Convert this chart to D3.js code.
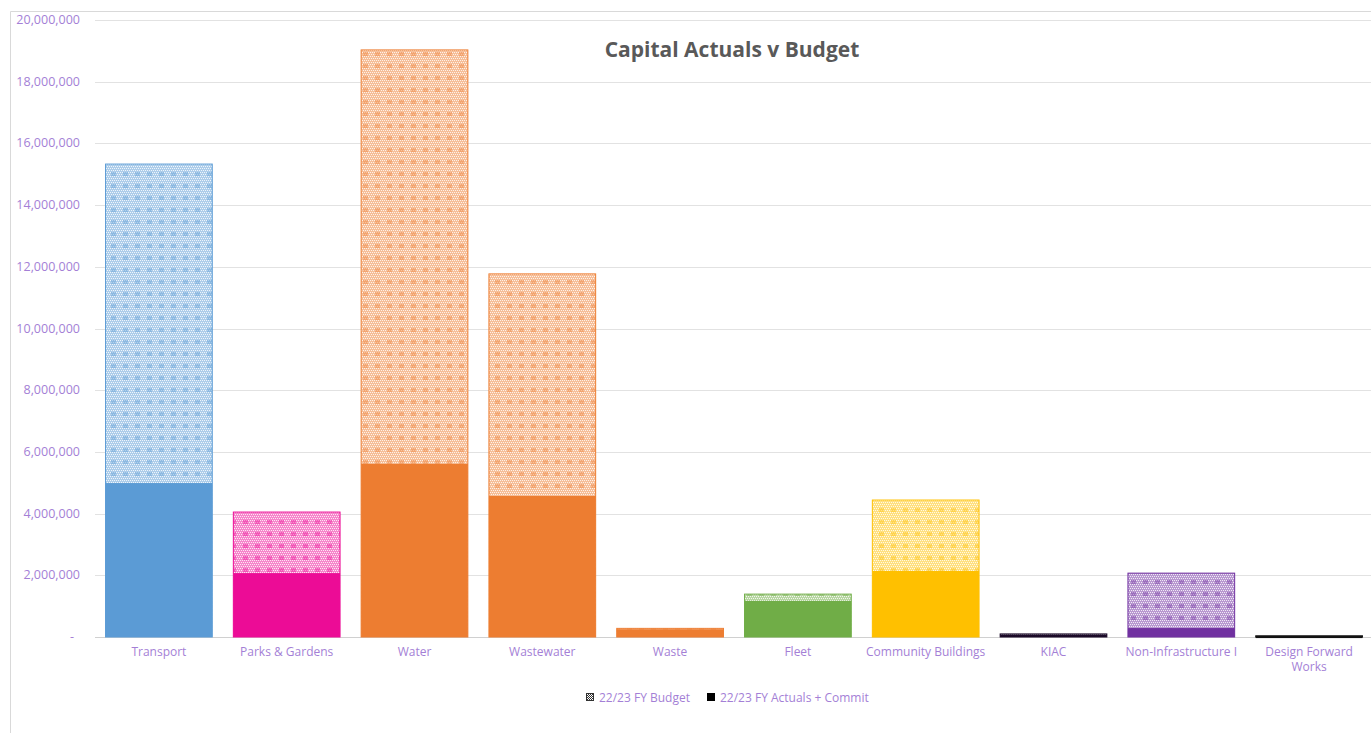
<!DOCTYPE html>
<html><head><meta charset="utf-8">
<script src="https://cdn.jsdelivr.net/npm/d3@7"></script>
<style>body{margin:0;background:#fff;}svg{display:block;}text{font-family:"Open Sans","Noto Sans",sans-serif;}</style>
</head><body><svg id="c" width="1371" height="733"></svg>
<script>
const categories = ["Transport","Parks & Gardens","Water","Wastewater","Waste","Fleet","Community Buildings","KIAC","Non-Infrastructure I","Design Forward Works"];
const budget = [15330000, 4050000, 19030000, 11770000, 280000, 1390000, 4440000, 100000, 2070000, 40000];
const actuals = [4990000, 2070000, 5610000, 4570000, 250000, 1170000, 2140000, 80000, 290000, 30000];
const colors = ["#5B9BD5","#EC0C96","#ED7D31","#ED7D31","#ED7D31","#70AD47","#FFC000","#1A0A28","#7030A0","#111111"];
const yTicks = [0,2000000,4000000,6000000,8000000,10000000,12000000,14000000,16000000,18000000,20000000];
const seriesNames = ["22/23 FY Budget","22/23 FY Actuals + Commit"];

const svg = d3.select("#c");
const W = 1371, H = 733;
const x = d3.scaleBand().domain(categories).range([95,1373]).paddingInner(0.165).paddingOuter(0.0825);
const y = d3.scaleLinear().domain([0,20000000]).range([637,20]);

// border
svg.append("path").attr("d",`M10.5,${H} V11.5 H${W}`).attr("fill","none").attr("stroke","#d9d9d9");

// patterns
const defs = svg.append("defs");
colors.forEach((c,i)=>{
  const p = defs.append("pattern").attr("id","pat"+i).attr("patternUnits","userSpaceOnUse").attr("width",12).attr("height",12);
  const light = d3.interpolateRgb(c,"#fff")(0.5);
  p.append("rect").attr("width",12).attr("height",12).attr("fill",light);
  for(let a=0;a<12;a+=2){for(let b=0;b<12;b+=2){
    p.append("rect").attr("x",a+((b/2)%2)).attr("y",b).attr("width",1).attr("height",1).attr("fill","#fff").attr("opacity",0.8);
  }}
  p.append("rect").attr("x",3).attr("y",4).attr("width",5).attr("height",4).attr("fill",c).attr("opacity",0.4);
});
const lp = defs.append("pattern").attr("id","patLegend").attr("patternUnits","userSpaceOnUse").attr("width",2).attr("height",2);
lp.append("rect").attr("width",2).attr("height",2).attr("fill","#fff");
lp.append("rect").attr("width",1).attr("height",1).attr("fill","#333");
lp.append("rect").attr("x",1).attr("y",1).attr("width",1).attr("height",1).attr("fill","#333");

// gridlines
svg.append("g").selectAll("line").data(yTicks).join("line")
  .attr("x1",95).attr("x2",W).attr("y1",d=>Math.round(y(d))+0.5).attr("y2",d=>Math.round(y(d))+0.5)
  .attr("stroke",d=>d===0?"#d0d0d0":"#e2e2e2");

// y labels
svg.append("g").selectAll("text").data(yTicks).join("text")
  .attr("x",d=>d===0?74:80).attr("y",d=>y(d)+4).attr("text-anchor","end")
  .attr("font-size",12.5).attr("fill","#A47FD6")
  .text(d=>d===0?"-":d3.format(",")(d));

// budget bars
svg.append("g").selectAll("rect").data(categories).join("rect")
  .attr("x",d=>x(d)).attr("width",x.bandwidth())
  .attr("y",(d,i)=>y(budget[i])).attr("height",(d,i)=>y(0)-y(budget[i]))
  .attr("fill",(d,i)=>`url(#pat${i})`).attr("stroke",(d,i)=>colors[i]).attr("stroke-width",1);

// actual bars
svg.append("g").selectAll("rect").data(categories).join("rect")
  .attr("x",d=>x(d)).attr("width",x.bandwidth())
  .attr("y",(d,i)=>y(actuals[i])).attr("height",(d,i)=>Math.max(2,y(0)-y(actuals[i])))
  .attr("fill",(d,i)=>colors[i]);

// x labels (wrapped where the reference wraps)
const lines = categories.map(d=>d==="Design Forward Works"?["Design Forward","Works"]:[d]);
const xg = svg.append("g");
categories.forEach((d,i)=>{
  lines[i].forEach((ln,j)=>{
    xg.append("text").attr("x",x(d)+x.bandwidth()/2).attr("y",656+j*14.5).attr("text-anchor","middle")
      .attr("font-size",12).attr("fill","#A47FD6").text(ln);
  });
});

// title
svg.append("text").attr("x",732).attr("y",57).attr("text-anchor","middle")
  .attr("font-size",21).attr("font-weight","bold").attr("fill","#595959").text("Capital Actuals v Budget");

// legend
const lg = svg.append("g");
lg.append("rect").attr("x",586.5).attr("y",693.5).attr("width",7).attr("height",7).attr("fill","url(#patLegend)").attr("stroke","#333");
lg.append("text").attr("x",599).attr("y",701.5).attr("font-size",12).attr("fill","#A47FD6").text(seriesNames[0]);
lg.append("rect").attr("x",707).attr("y",693).attr("width",8).attr("height",8).attr("fill","#000");
lg.append("text").attr("x",720).attr("y",701.5).attr("font-size",12).attr("fill","#A47FD6").text(seriesNames[1]);
</script></body></html>
